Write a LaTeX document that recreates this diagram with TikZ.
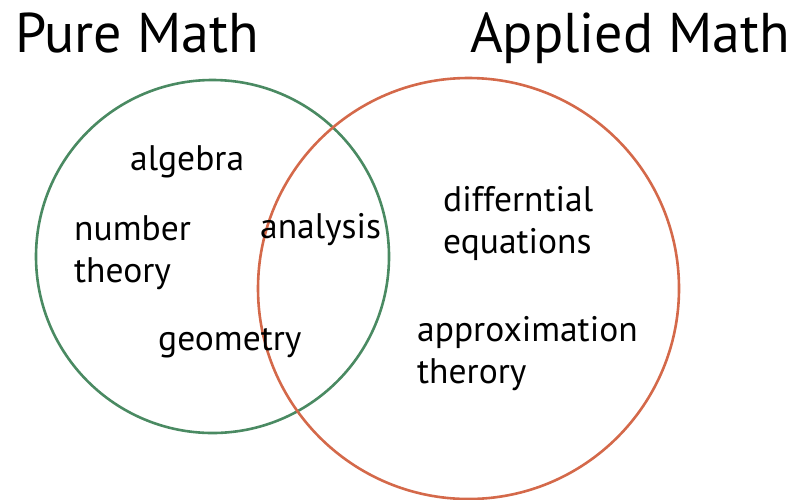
\documentclass[tikz,border=0pt]{standalone}
\usepackage{fontspec}
\setmainfont{PT Sans}
\usetikzlibrary{positioning}
\definecolor{PureGreen}{HTML}{4A8A62}
\definecolor{AppliedRed}{HTML}{D4694A}

\begin{document}
\begin{tikzpicture}[x=1pt, y=-1pt, title/.style={anchor=base west, inner sep=0pt, font=\fontsize{56}{60}\selectfont}, topic/.style={anchor=base west, inner sep=0pt, align=left, font=\fontsize{35.5}{42}\selectfont}]
    \useasboundingbox (0,0) rectangle (799,499);
    % the two fields
    \draw[PureGreen, line width=2.6pt] (212.5,256.5) circle[radius=176.5] coordinate (pure);
    \draw[AppliedRed, line width=2.6pt] (468.5,288.5) circle[radius=210.5] coordinate (applied);
    \node[title] (pt) at (15,52) {Pure Math};
    \node[title] (at) at (470,52) {Applied Math};
    % topics (base is the last line)
    \node[topic] (alg) at (130,170) {algebra};
    \node[topic] (num) at (74,282) {number\\theory};
    \node[topic] (ana) at (260,238) {analysis};
    \node[topic] (geo) at (158,350) {geometry};
    \node[topic] (dif) at (443,253) {differntial\\equations};
    \node[topic] (app) at (417,383) {approximation\\therory};
\end{tikzpicture}
\end{document}
